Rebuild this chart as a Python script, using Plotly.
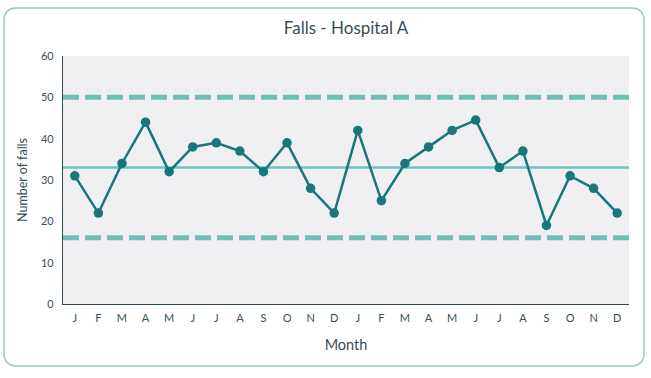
import plotly.graph_objects as go

months = ["J", "F", "M", "A", "M", "J", "J", "A", "S", "O", "N", "D",
          "J", "F", "M", "A", "M", "J", "J", "A", "S", "O", "N", "D"]
falls = [31, 22, 34, 44, 32, 38, 39, 37, 32, 39, 28, 22,
         42, 25, 34, 38, 42, 44.5, 33, 37, 19, 31, 28, 22]
mean_line = 33
upper_limit = 50
lower_limit = 16
y_ticks = [0, 10, 20, 30, 40, 50, 60]

W, H = 651, 378
L, R, T, B = 63, 22, 56, 74
pw, ph = W - L - R, H - T - B

x_idx = list(range(len(months)))

fig = go.Figure()
for val, dash, width, color in [(upper_limit, "16px,6px", 5, "#6dbfb8"),
                                (lower_limit, "16px,6px", 5, "#6dbfb8"),
                                (mean_line, "solid", 2.5, "#6fc2be")]:
    fig.add_trace(go.Scatter(x=[-0.5, len(months) - 0.5], y=[val, val], mode="lines",
                             line=dict(color=color, width=width, dash=dash),
                             hoverinfo="skip", showlegend=False))

fig.add_trace(go.Scatter(x=x_idx, y=falls, mode="lines+markers",
                         line=dict(color="#17787a", width=2.5),
                         marker=dict(color="#17787a", size=9.5),
                         showlegend=False))

# rounded outer border, pixel -> paper coordinates
def px(x):
    return (x - L) / pw

def py(y):
    return (H - B - y) / ph

x0, y0, x1, y1, r = 4, 8, 644, 366, 13
path = (f"M {px(x0 + r)} {py(y0)} L {px(x1 - r)} {py(y0)} "
        f"Q {px(x1)} {py(y0)} {px(x1)} {py(y0 + r)} "
        f"L {px(x1)} {py(y1 - r)} Q {px(x1)} {py(y1)} {px(x1 - r)} {py(y1)} "
        f"L {px(x0 + r)} {py(y1)} Q {px(x0)} {py(y1)} {px(x0)} {py(y1 - r)} "
        f"L {px(x0)} {py(y0 + r)} Q {px(x0)} {py(y0)} {px(x0 + r)} {py(y0)} Z")

font_family = "Lato, 'Open Sans', sans-serif"
fig.update_layout(
    width=W, height=H,
    margin=dict(l=L, r=R, t=T, b=B),
    paper_bgcolor="white",
    plot_bgcolor="#f0f0f2",
    font=dict(family=font_family, color="#3b4e55"),
    title=dict(text="Falls - Hospital A", x=0.5, xref="paper", xanchor="center",
               y=1 - 28 / H, yanchor="middle", yref="container",
               font=dict(size=17, color="#3b4e55")),
    shapes=[dict(type="path", path=path, xref="paper", yref="paper",
                 line=dict(color="#8fcfc7", width=1.5), layer="below")],
    xaxis=dict(range=[-0.5, len(months) - 0.5], tickvals=x_idx, ticktext=months,
               showgrid=False, zeroline=False, showline=True, linecolor="#2e4a50",
               linewidth=1.2, ticks="", ticklabelstandoff=4,
               tickfont=dict(size=11, color="#3b4e55"),
               title=dict(text="Month", font=dict(size=14.5, color="#3b4e55"), standoff=16)),
    yaxis=dict(range=[0, 60], tickvals=y_ticks, showgrid=False, zeroline=False,
               showline=True, linecolor="#2e4a50", linewidth=1.2, ticks="",
               ticklabelstandoff=6, tickfont=dict(size=11, color="#3b4e55"),
               title=dict(text="Number of falls", font=dict(size=12.5, color="#3b4e55"),
                          standoff=10)),
)

fig.write_html("out.html", config={"displayModeBar": False},
               post_script="document.body.style.margin='0';document.body.style.overflow='hidden';")
